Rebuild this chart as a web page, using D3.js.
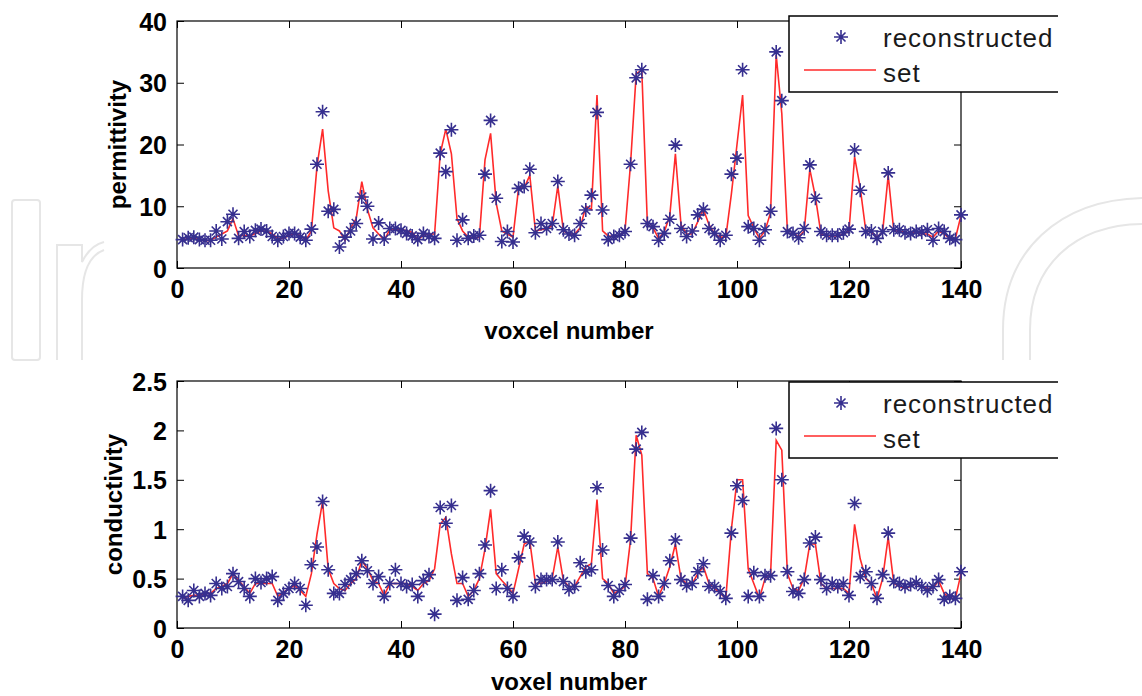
<!DOCTYPE html>
<html>
<head>
<meta charset="utf-8">
<script src="https://cdn.jsdelivr.net/npm/d3@7"></script>
<style>
  body { margin: 0; background: #fff; }
  svg { display: block; }
  .tick text { font-family: "Liberation Sans", Arial, sans-serif; font-weight: bold; font-size: 25px; fill: #000; }
  .tick line { stroke: #000; }
  .axlabel { font-family: "Liberation Sans", Arial, sans-serif; font-weight: bold; font-size: 24px; fill: #000; }
  .legtext { font-family: "Liberation Sans", Arial, sans-serif; font-size: 26px; letter-spacing: 1px; fill: #1a1a1a; }
</style>
</head>
<body>
<script>
// voxel index 1..140
var voxels = d3.range(1, 141);

// permittivity, reconstructed (stars)
var permRecon = [4.6,4.9,5.0,4.6,4.5,4.5,6.0,4.7,7.5,8.7,
                 4.8,5.9,5.1,6.1,6.3,6.0,5.1,4.5,5.1,5.6,
                 5.6,5.0,4.5,6.3,16.8,25.3,9.2,9.5,3.4,5.0,
                 6.0,7.2,11.5,10.0,4.7,7.3,4.7,6.4,6.4,6.1,
                 5.6,5.2,4.6,5.6,5.1,4.8,18.6,15.6,22.4,4.5,
                 7.8,4.8,5.2,5.3,15.2,23.9,11.3,4.3,5.9,4.2,
                 12.9,13.2,16.0,5.7,7.2,6.4,7.2,14.0,6.2,5.5,
                 5.3,7.2,9.4,11.8,25.2,9.4,4.6,5.1,5.3,5.9,
                 16.8,30.8,32.1,7.2,6.7,4.5,5.6,7.9,19.9,6.4,
                 5.1,6.0,8.6,9.5,6.4,5.6,4.5,5.3,15.2,17.8,
                 32.1,6.7,6.4,4.5,6.2,9.2,35.0,27.1,5.9,5.6,
                 4.9,6.4,16.7,11.3,5.9,5.3,5.3,5.3,5.7,6.3,
                 19.1,12.6,5.9,6.0,4.8,5.9,15.4,6.2,6.2,5.7,
                 5.6,5.9,5.8,6.2,4.5,6.4,5.9,4.8,4.6,8.6];

// permittivity, set (red line)
var permSet = [4.5,4.8,4.8,4.6,4.4,4.5,5.0,5.5,6.0,8.0,
               5.2,5.3,5.2,5.6,6.0,6.0,5.5,4.8,4.8,5.3,
               5.5,5.3,4.5,6.0,16.5,22.5,12.5,6.5,6.0,4.5,
               6.5,8.0,14.0,9.5,6.5,5.5,4.5,6.2,6.3,6.3,
               6.0,5.8,4.6,5.3,5.5,5.5,18.5,22.5,18.5,8.0,
               6.0,5.0,4.8,5.0,17.5,21.8,10.5,6.0,5.5,5.0,
               13.0,13.0,15.0,6.0,6.2,6.4,6.8,13.3,6.0,5.5,
               5.5,6.5,10.0,9.5,28.0,6.0,5.2,5.0,5.3,6.0,
               17.0,31.5,32.0,7.0,6.5,4.8,5.8,8.5,18.5,7.0,
               5.5,5.5,7.5,9.5,7.0,5.5,5.0,5.0,12.0,20.0,
               28.0,8.5,6.5,4.8,6.0,9.0,34.5,25.0,6.0,5.8,
               5.0,6.0,16.0,11.5,5.5,5.2,5.2,5.2,5.5,6.0,
               18.0,13.0,6.0,5.8,5.0,5.8,15.0,6.0,6.0,5.8,
               5.6,5.8,5.5,5.5,5.0,6.0,5.5,4.8,4.8,8.5];

// conductivity, reconstructed (stars)
var condRecon = [0.32,0.28,0.38,0.32,0.35,0.33,0.45,0.40,0.42,0.55,
                 0.47,0.40,0.32,0.50,0.46,0.50,0.52,0.28,0.35,0.40,
                 0.45,0.40,0.23,0.64,0.82,1.28,0.59,0.35,0.35,0.44,
                 0.49,0.55,0.68,0.58,0.45,0.52,0.32,0.45,0.59,0.45,
                 0.42,0.44,0.32,0.48,0.54,0.14,1.22,1.06,1.24,0.28,
                 0.51,0.29,0.38,0.55,0.84,1.39,0.40,0.59,0.40,0.32,
                 0.71,0.93,0.87,0.42,0.49,0.49,0.49,0.87,0.47,0.39,
                 0.42,0.66,0.57,0.59,1.42,0.79,0.43,0.32,0.38,0.44,
                 0.91,1.81,1.98,0.29,0.53,0.32,0.45,0.68,0.89,0.49,
                 0.43,0.45,0.57,0.65,0.42,0.42,0.37,0.30,0.96,1.44,
                 1.29,0.32,0.56,0.32,0.53,0.53,2.02,1.50,0.57,0.37,
                 0.35,0.49,0.86,0.92,0.49,0.40,0.45,0.42,0.45,0.33,
                 1.26,0.52,0.57,0.45,0.30,0.54,0.96,0.47,0.45,0.42,
                 0.44,0.46,0.42,0.38,0.42,0.49,0.29,0.32,0.30,0.57];

// conductivity, set (red line)
var condSet = [0.30,0.32,0.33,0.33,0.35,0.35,0.40,0.42,0.45,0.55,
               0.48,0.42,0.35,0.45,0.45,0.45,0.45,0.32,0.36,0.40,
               0.43,0.38,0.32,0.55,0.95,1.28,0.60,0.45,0.40,0.38,
               0.45,0.50,0.68,0.60,0.48,0.45,0.33,0.45,0.45,0.45,
               0.45,0.42,0.38,0.45,0.48,0.60,1.05,1.12,0.75,0.45,
               0.45,0.32,0.38,0.50,0.80,1.20,0.55,0.48,0.42,0.35,
               0.60,0.85,0.88,0.45,0.45,0.47,0.50,0.82,0.48,0.42,
               0.42,0.52,0.62,0.65,1.30,0.50,0.45,0.35,0.38,0.42,
               0.90,1.95,1.75,0.55,0.50,0.32,0.45,0.62,0.85,0.50,
               0.45,0.45,0.55,0.62,0.45,0.40,0.35,0.30,1.00,1.50,
               1.50,0.60,0.45,0.30,0.50,0.55,1.90,1.80,0.55,0.40,
               0.38,0.50,0.85,0.85,0.45,0.40,0.40,0.40,0.40,0.35,
               1.05,0.70,0.50,0.45,0.30,0.50,0.92,0.45,0.42,0.40,
               0.42,0.45,0.42,0.40,0.40,0.48,0.35,0.30,0.30,0.55];

var xTicks = [0, 20, 40, 60, 80, 100, 120, 140];
var permTicks = [0, 10, 20, 30, 40];
var condTicks = [0, 0.5, 1, 1.5, 2, 2.5];
var legendNames = ["reconstructed", "set"];

var width = 1142, height = 696;
var starColor = "#362f8f", lineColor = "#ff2a2a";

var svg = d3.select("body").append("svg")
    .attr("width", width)
    .attr("height", height);

// faint watermark outlines in the background
var wm = svg.append("g")
    .attr("fill", "none")
    .attr("stroke", "#e6e6e6")
    .attr("stroke-width", 2);
wm.append("rect").attr("x", 12).attr("y", 200).attr("width", 28).attr("height", 160).attr("rx", 3);
wm.append("path").attr("d", "M57,360 L57,245 L82,245 L82,262 C88,250 96,244 104,242 M82,360 L82,300 C82,270 90,255 104,250");
wm.append("path").attr("d", "M1003,360 L1003,330 C1003,250 1060,200 1142,198 M1030,360 L1030,330 C1030,265 1075,225 1142,224");

var x = d3.scaleLinear().domain([0, 140]).range([177, 961]);

function drawPanel(yScale, yTicks, recon, set, yName, xName, xNameY, legTop) {
    var top = yScale.range()[1], bottom = yScale.range()[0];
    var g = svg.append("g");

    // inward ticks on all four sides
    g.append("g")
        .attr("class", "xaxis")
        .attr("transform", "translate(0," + bottom + ")")
        .call(d3.axisBottom(x).tickValues(xTicks).tickSize(-7).tickSizeOuter(0).tickPadding(12));
    g.append("g")
        .attr("transform", "translate(0," + top + ")")
        .call(d3.axisTop(x).tickValues(xTicks).tickSize(-7).tickSizeOuter(0).tickFormat(""));
    g.append("g")
        .attr("class", "yaxis")
        .attr("transform", "translate(177,0)")
        .call(d3.axisLeft(yScale).tickValues(yTicks).tickSize(-7).tickSizeOuter(0).tickPadding(10)
            .tickFormat(d3.format("")));
    g.append("g")
        .attr("transform", "translate(961,0)")
        .call(d3.axisRight(yScale).tickValues(yTicks).tickSize(-7).tickSizeOuter(0).tickFormat(""));
    g.selectAll(".domain").remove();
    g.selectAll(".xaxis .tick text").attr("dy", "0.72em");
    g.selectAll(".yaxis .tick text").attr("dy", "0.36em");

    g.append("rect")
        .attr("x", 177).attr("y", top)
        .attr("width", 961 - 177).attr("height", bottom - top)
        .attr("fill", "none").attr("stroke", "#000").attr("stroke-width", 1.2);

    var line = d3.line()
        .x(function(d, i) { return x(voxels[i]); })
        .y(function(d) { return yScale(d); });

    g.append("path")
        .datum(set)
        .attr("d", line)
        .attr("fill", "none")
        .attr("stroke", lineColor)
        .attr("stroke-width", 1.6);

    g.selectAll(".star")
        .data(recon)
      .enter().append("path")
        .attr("class", "star")
        .attr("transform", function(d, i) { return "translate(" + x(voxels[i]) + "," + yScale(d) + ")"; })
        .attr("d", "M-7,0H7M0,-7V7M-4.5,-4.5L4.5,4.5M-4.5,4.5L4.5,-4.5")
        .attr("stroke", starColor)
        .attr("stroke-width", 1.6)
        .attr("fill", "none");

    g.append("text")
        .attr("class", "axlabel")
        .attr("x", 569).attr("y", xNameY)
        .attr("text-anchor", "middle")
        .text(xName);

    g.append("text")
        .attr("class", "axlabel")
        .attr("transform", "translate(" + (yName === "permittivity" ? 126 : 122) + "," + ((top + bottom) / 2) + ") rotate(-90)")
        .attr("text-anchor", "middle")
        .text(yName);

    // legend box, cut off at the figure's right edge
    var leg = svg.append("g").attr("clip-path", "url(#figclip)");
    leg.append("rect")
        .attr("x", 789).attr("y", legTop)
        .attr("width", 320).attr("height", 76)
        .attr("fill", "#fff").attr("stroke", "#000").attr("stroke-width", 1.5);
    leg.append("path")
        .attr("transform", "translate(841," + (legTop + 21) + ")")
        .attr("d", "M-7,0H7M0,-7V7M-4.5,-4.5L4.5,4.5M-4.5,4.5L4.5,-4.5")
        .attr("stroke", starColor).attr("stroke-width", 1.6);
    leg.append("line")
        .attr("x1", 804).attr("x2", 876)
        .attr("y1", legTop + 54).attr("y2", legTop + 54)
        .attr("stroke", lineColor).attr("stroke-width", 1.6);
    leg.selectAll(".legtext")
        .data(legendNames)
      .enter().append("text")
        .attr("class", "legtext")
        .attr("x", 883)
        .attr("y", function(d, i) { return legTop + 31 + i * 35; })
        .text(function(d) { return d; });
}

svg.append("defs").append("clipPath").attr("id", "figclip")
  .append("rect").attr("x", 0).attr("y", 0).attr("width", 1058).attr("height", height);

var yPerm = d3.scaleLinear().domain([0, 40]).range([268, 21]);
var yCond = d3.scaleLinear().domain([0, 2.5]).range([628, 381]);

drawPanel(yPerm, permTicks, permRecon, permSet, "permittivity", "voxcel number", 339, 16);
drawPanel(yCond, condTicks, condRecon, condSet, "conductivity", "voxel number", 690, 382);
</script>
</body>
</html>
